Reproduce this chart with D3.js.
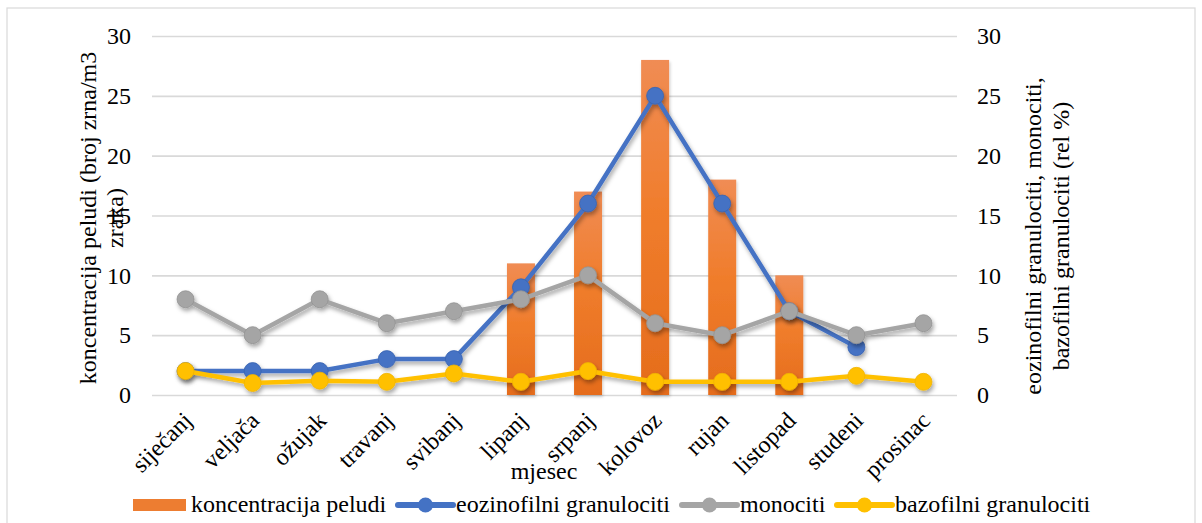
<!DOCTYPE html>
<html>
<head>
<meta charset="utf-8">
<script src="https://cdn.jsdelivr.net/npm/d3@7"></script>
<style>
  body { margin: 0; background: #fff; }
</style>
</head>
<body>
<div id="chart"></div>
<script>
// data
var months = ["siječanj", "veljača", "ožujak", "travanj", "svibanj", "lipanj",
              "srpanj", "kolovoz", "rujan", "listopad", "studeni", "prosinac"];
var pelud = [null, null, null, null, null, 11, 17, 28, 18, 10, null, null];
var eozinofilni = [2, 2, 2, 3, 3, 9, 16, 25, 16, 7, 4, null];
var monociti = [8, 5, 8, 6, 7, 8, 10, 6, 5, 7, 5, 6];
var bazofilni = [2, 1, 1.2, 1.1, 1.8, 1.1, 2, 1.1, 1.1, 1.1, 1.6, 1.1];
var yTicks = [0, 5, 10, 15, 20, 25, 30];

var W = 1202, H = 523;
var FONT = "'Liberation Serif', 'Times New Roman', serif";
var FS = "24px";

var svg = d3.select("#chart").append("svg")
    .attr("width", W)
    .attr("height", H)
    .style("font-family", FONT);

var defs = svg.append("defs");

// shadow for lines / markers
var f = defs.append("filter").attr("id", "shadow")
    .attr("x", "-20%").attr("y", "-20%").attr("width", "140%").attr("height", "160%");
f.append("feDropShadow")
    .attr("dx", 1.5).attr("dy", 3).attr("stdDeviation", 2)
    .attr("flood-color", "#000").attr("flood-opacity", 0.35);

var fb = defs.append("filter").attr("id", "barshadow")
    .attr("x", "-20%").attr("y", "-5%").attr("width", "140%").attr("height", "115%");
fb.append("feDropShadow")
    .attr("dx", 1).attr("dy", 2).attr("stdDeviation", 1.5)
    .attr("flood-color", "#000").attr("flood-opacity", 0.2);

// bar gradient
var bg = defs.append("linearGradient").attr("id", "bargrad")
    .attr("x1", 0).attr("y1", 0).attr("x2", 0).attr("y2", 1);
bg.append("stop").attr("offset", "0%").attr("stop-color", "#f08c54");
bg.append("stop").attr("offset", "45%").attr("stop-color", "#f07d2c");
bg.append("stop").attr("offset", "100%").attr("stop-color", "#e56c1c");

// outer frame
svg.append("rect")
    .attr("x", 7).attr("y", 8)
    .attr("width", 1188).attr("height", 530)
    .attr("fill", "none")
    .attr("stroke", "#d9d9d9")
    .attr("stroke-width", 1.2);

var x = d3.scaleBand()
    .domain(months)
    .range([152, 957])
    .padding(0);

var y = d3.scaleLinear()
    .domain([0, 30])
    .range([395, 36]);

function cx(i) { return x(months[i]) + x.bandwidth() / 2; }

// gridlines
svg.append("g")
    .attr("class", "grid")
    .attr("transform", "translate(152,0)")
    .call(d3.axisLeft(y).tickValues(yTicks).tickSize(-805).tickFormat(""))
    .call(function(g) {
      g.select(".domain").remove();
      g.selectAll("line").attr("stroke", "#d9d9d9").attr("stroke-width", 1.6);
    });

// left axis labels
svg.append("g")
    .attr("transform", "translate(152,0)")
    .call(d3.axisLeft(y).tickValues(yTicks).tickSize(0).tickPadding(21))
    .call(function(g) {
      g.attr("font-family", null).attr("font-size", null);
      g.select(".domain").remove();
      g.selectAll("text").style("font-size", FS);
    });

// right axis labels
svg.append("g")
    .attr("transform", "translate(957,0)")
    .call(d3.axisRight(y).tickValues(yTicks).tickSize(0).tickPadding(20))
    .call(function(g) {
      g.attr("font-family", null).attr("font-size", null);
      g.select(".domain").remove();
      g.selectAll("text").style("font-size", FS);
    });

// bars
var barW = 28;
svg.append("g")
    .attr("filter", "url(#barshadow)")
    .selectAll("rect")
    .data(pelud.map(function(v, i) { return {v: v, i: i}; }).filter(function(d) { return d.v != null; }))
  .enter().append("rect")
    .attr("x", function(d) { return cx(d.i) - barW / 2; })
    .attr("y", function(d) { return y(d.v); })
    .attr("width", barW)
    .attr("height", function(d) { return y(0) - y(d.v); })
    .attr("fill", "url(#bargrad)");

// line series
var series = [
  {name: "eozinofilni granulociti", values: eozinofilni, color: "#4472c4", dark: "#3a63b0"},
  {name: "monociti", values: monociti, color: "#a5a5a5", dark: "#939393"},
  {name: "bazofilni granulociti", values: bazofilni, color: "#ffc000", dark: "#f0b400"}
];

var line = d3.line()
    .defined(function(d) { return d.v != null; })
    .x(function(d) { return cx(d.i); })
    .y(function(d) { return y(d.v); });

series.forEach(function(s) {
  var pts = s.values.map(function(v, i) { return {v: v, i: i}; });
  var g = svg.append("g").attr("filter", "url(#shadow)");
  g.append("path")
      .datum(pts)
      .attr("d", line)
      .attr("fill", "none")
      .attr("stroke", s.color)
      .attr("stroke-width", 4.5)
      .attr("stroke-linejoin", "round");
  g.selectAll("circle")
      .data(pts.filter(function(d) { return d.v != null; }))
    .enter().append("circle")
      .attr("cx", function(d) { return cx(d.i); })
      .attr("cy", function(d) { return y(d.v); })
      .attr("r", 8.5)
      .attr("fill", s.color)
      .attr("stroke", s.dark)
      .attr("stroke-width", 0.8);
});

// category labels
svg.append("g")
    .selectAll("text")
    .data(months)
  .enter().append("text")
    .attr("transform", function(d, i) {
      return "translate(" + (cx(i) + 8) + ",422) rotate(-45)";
    })
    .attr("text-anchor", "end")
    .style("font-size", FS)
    .text(function(d) { return d; });

// axis titles
svg.append("text")
    .attr("x", 544).attr("y", 479)
    .attr("text-anchor", "middle")
    .style("font-size", FS)
    .text("mjesec");

var lt = svg.append("text")
    .attr("transform", "translate(0,218) rotate(-90)")
    .attr("text-anchor", "middle")
    .style("font-size", FS);
lt.append("tspan").attr("x", 0).attr("y", 96).text("koncentracija peludi (broj zrna/m3");
lt.append("tspan").attr("x", 0).attr("y", 123).text("zraka)");

var rt = svg.append("text")
    .attr("transform", "translate(0,236) rotate(-90)")
    .attr("text-anchor", "middle")
    .style("font-size", FS);
rt.append("tspan").attr("x", 0).attr("y", 1041).text("eozinofilni granulociti, monociti,");
rt.append("tspan").attr("x", 0).attr("y", 1069).text("bazofilni granulociti (rel %)");

// legend
var legendY = 505;
var legend = svg.append("g");
legend.append("rect")
    .attr("x", 133).attr("y", legendY - 6)
    .attr("width", 53).attr("height", 12)
    .attr("fill", "#ed7d31");
legend.append("text")
    .attr("x", 191).attr("y", legendY + 7)
    .style("font-size", FS)
    .text("koncentracija peludi");

var legendX = [398, 682, 837];
series.forEach(function(s, i) {
  var lx = legendX[i];
  legend.append("line")
      .attr("x1", lx).attr("x2", lx + 55)
      .attr("y1", legendY).attr("y2", legendY)
      .attr("stroke", s.color).attr("stroke-width", 6)
      .attr("stroke-linecap", "round");
  legend.append("circle")
      .attr("cx", lx + 27.5).attr("cy", legendY)
      .attr("r", 7.5)
      .attr("fill", s.color);
  legend.append("text")
      .attr("x", lx + 58).attr("y", legendY + 7)
      .style("font-size", FS)
      .text(s.name);
});
</script>
</body>
</html>
